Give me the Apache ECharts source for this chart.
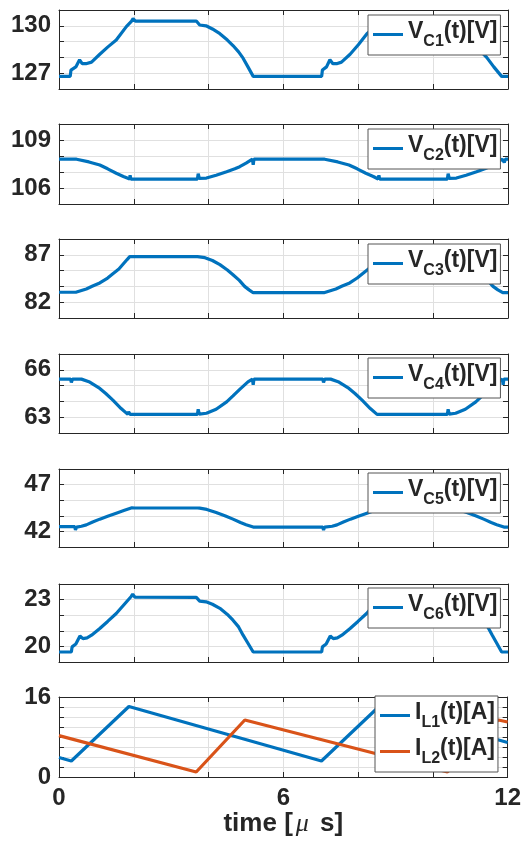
<!DOCTYPE html>
<html>
<head>
<meta charset="utf-8">
<script src="https://cdn.jsdelivr.net/npm/echarts@6/dist/echarts.min.js"></script>
<style>
  html, body { margin: 0; padding: 0; background: #ffffff; }
  #chart { width: 524px; height: 851px; }
</style>
</head>
<body>
<div id="chart"></div>
<script>
// ---- Capacitor voltages, [time (µs), volts] ----
const vC1 = [[0,126.8],[0.3,126.8],[0.32,127.2],[0.45,127.4],[0.55,127.85],[0.62,127.6],[0.72,127.6],[0.87,127.7],[1.09,128.2],[1.3,128.65],[1.53,129.1],[1.8,129.95],[1.94,130.3],[1.98,130.45],[2.04,130.3],[3.67,130.3],[3.76,130.05],[3.93,130.0],[4.1,129.8],[4.3,129.5],[4.5,129.1],[4.65,128.75],[4.8,128.35],[4.92,127.95],[5.05,127.4],[5.19,126.8],[7.02,126.8],[7.04,127.2],[7.15,127.4],[7.24,127.85],[7.32,127.6],[7.42,127.6],[7.55,127.7],[7.78,128.2],[8.0,128.8],[8.23,129.5],[8.45,129.95],[8.62,130.3],[8.66,130.45],[8.72,130.3],[10.3,130.3],[10.38,130.05],[10.55,130.0],[10.72,129.5],[10.9,129.15],[11.05,128.8],[11.25,128.45],[11.43,128.0],[11.62,127.4],[11.83,126.8],[12,126.8]];
const vC2 = [[0,107.8],[0.47,107.8],[0.8,107.63],[1.09,107.44],[1.3,107.2],[1.53,106.92],[1.72,106.72],[1.89,106.56],[1.9,106.8],[1.92,106.56],[3.7,106.56],[3.72,106.9],[3.75,106.6],[3.94,106.62],[4.2,106.8],[4.48,107.02],[4.7,107.2],[4.83,107.33],[5.0,107.55],[5.17,107.8],[5.19,107.45],[5.21,107.8],[7.1,107.8],[7.45,107.63],[7.75,107.44],[7.97,107.2],[8.2,106.92],[8.4,106.72],[8.53,106.56],[8.55,106.8],[8.57,106.56],[10.38,106.56],[10.4,106.9],[10.43,106.6],[10.62,106.62],[10.88,106.8],[11.16,107.02],[11.38,107.2],[11.51,107.33],[11.68,107.55],[11.85,107.8],[11.9,107.6],[11.93,107.8],[12,107.8]];
const vC3 = [[0,83.05],[0.45,83.05],[0.47,82.85],[0.5,83.05],[0.73,83.4],[0.9,83.7],[1.09,84.03],[1.3,84.55],[1.44,85.0],[1.6,85.5],[1.71,86.0],[1.82,86.5],[1.89,86.8],[3.7,86.8],[3.72,86.65],[3.9,86.7],[4.1,86.4],[4.3,85.96],[4.5,85.4],[4.65,84.9],[4.82,84.3],[4.96,83.67],[5.08,83.3],[5.19,83.0],[7.08,83.0],[7.1,82.8],[7.13,83.0],[7.4,83.4],[7.57,83.7],[7.77,84.03],[7.97,84.55],[8.11,85.0],[8.27,85.5],[8.38,86.0],[8.49,86.5],[8.56,86.8],[10.36,86.8],[10.55,86.7],[10.75,86.4],[10.94,85.96],[11.14,85.4],[11.29,84.9],[11.46,84.3],[11.6,83.67],[11.73,83.3],[11.86,83.0],[12,83.0]];
const vC4 = [[0,65.41],[0.31,65.41],[0.33,65.2],[0.36,65.41],[0.6,65.41],[0.8,65.25],[1.09,64.82],[1.25,64.5],[1.44,64.08],[1.66,63.55],[1.84,63.18],[1.86,63.35],[1.9,63.18],[3.7,63.18],[3.72,63.5],[3.75,63.2],[3.94,63.25],[4.2,63.5],[4.48,63.97],[4.65,64.35],[4.83,64.76],[5.05,65.24],[5.17,65.41],[5.19,65.05],[5.21,65.41],[7.05,65.41],[7.07,65.2],[7.1,65.41],[7.26,65.41],[7.46,65.25],[7.75,64.82],[7.91,64.5],[8.1,64.08],[8.32,63.55],[8.5,63.18],[10.38,63.18],[10.4,63.5],[10.43,63.2],[10.6,63.25],[10.86,63.5],[11.14,63.97],[11.31,64.35],[11.49,64.76],[11.71,65.24],[11.85,65.41],[11.87,65.05],[11.89,65.41],[12,65.41]];
const vC5 = [[0,42.5],[0.42,42.5],[0.44,42.15],[0.47,42.45],[0.6,42.55],[0.73,42.7],[0.9,43.0],[1.09,43.31],[1.3,43.62],[1.53,43.95],[1.75,44.25],[1.95,44.52],[1.98,44.65],[2.02,44.5],[3.7,44.5],[3.72,44.65],[3.76,44.48],[3.95,44.35],[4.2,44.02],[4.45,43.65],[4.65,43.31],[4.85,42.95],[5.0,42.72],[5.19,42.46],[7.05,42.46],[7.07,42.15],[7.1,42.45],[7.3,42.55],[7.43,42.7],[7.6,43.0],[7.79,43.31],[8.0,43.62],[8.23,43.95],[8.45,44.25],[8.65,44.52],[10.4,44.5],[10.65,44.35],[10.9,44.02],[11.15,43.65],[11.35,43.31],[11.55,42.95],[11.7,42.72],[11.89,42.46],[12,42.46]];
const vC6 = [[0,19.64],[0.33,19.64],[0.35,19.97],[0.45,20.15],[0.56,20.67],[0.64,20.5],[0.75,20.55],[0.87,20.72],[1.09,21.15],[1.3,21.6],[1.53,22.11],[1.8,22.85],[1.93,23.2],[1.97,23.35],[2.03,23.15],[3.67,23.14],[3.76,22.9],[3.93,22.86],[4.1,22.7],[4.3,22.44],[4.5,22.05],[4.65,21.68],[4.8,21.25],[4.92,20.72],[5.05,20.2],[5.19,19.64],[7.02,19.64],[7.04,19.97],[7.14,20.15],[7.25,20.67],[7.33,20.5],[7.44,20.55],[7.56,20.72],[7.78,21.15],[7.99,21.6],[8.22,22.11],[8.49,22.85],[8.62,23.2],[8.66,23.35],[8.72,23.15],[10.33,23.14],[10.42,22.9],[10.59,22.86],[10.76,22.7],[10.96,22.44],[11.16,22.05],[11.31,21.68],[11.46,21.25],[11.58,20.72],[11.7,20.2],[11.83,19.64],[12,19.64]];

// ---- Inductor currents, [time (µs), amps] ----
const iL1 = [[0,3.9],[0.33,3.2],[1.87,14.1],[7.02,3.2],[8.56,14.1],[12,6.9]];
const iL2 = [[0,8.27],[3.67,1.0],[4.97,11.4],[10.39,1.0],[11.75,11.4],[12,11.0]];

// ---- Axis ranges, tick values and labelled ticks per panel ----
const yRanges = [[126,131],[105,110],[80.333,88.667],[62,67],[40.333,48.667],[19,24],[0,16]];
const yTicks = [
  [127,128,129,130],
  [106,107,108,109],
  [82,83.667,85.333,87],
  [63,64,65,66],
  [42,43.667,45.333,47],
  [20,21,22,23],
  [0,2,4,6,8,10,12,14,16]
];
const yLabels = [[127,130],[106,109],[82,87],[63,66],[42,47],[20,23],[0,16]];
const xRange = [0, 12];
const xLabels = [0, 6, 12];

const seriesNames = [
  ['V_C1(t)[V]'], ['V_C2(t)[V]'], ['V_C3(t)[V]'], ['V_C4(t)[V]'],
  ['V_C5(t)[V]'], ['V_C6(t)[V]'], ['I_L1(t)[A]', 'I_L2(t)[A]']
];
const seriesData = [[vC1],[vC2],[vC3],[vC4],[vC5],[vC6],[iL1, iL2]];

// ---- Styling / layout ----
const BLUE = '#0072BD', ORANGE = '#D95319';
const INK = '#262626', GRIDLINE = '#e0e0e0';
const FONT = "'Liberation Sans', Arial, Helvetica, sans-serif";
const panelTop = [10, 124, 239, 354, 469, 584, 697];
const panelHeight = [79, 80, 79, 79, 78, 78, 80];
const legendPos = [[368,15],[368,129],[368,244],[368,358],[368,473],[368,588],[375,696]];
const lineColors = [BLUE, ORANGE];

const grids = [], xAxes = [], yAxes = [], series = [], legends = [];

const legendRich = {
  m: { fontSize: 23, fontWeight: 'bold', color: INK, fontFamily: FONT, lineHeight: 24, padding: [0,0,6,0] },
  s: { fontSize: 16, fontWeight: 'bold', color: INK, fontFamily: FONT, lineHeight: 18, padding: [15,0,0,0] }
};
function legendText(name) {
  const m = name.match(/^(.)_(\w\d)(.*)$/);
  return '{m|' + m[1] + '}{s|' + m[2] + '}{m|' + m[3] + '}';
}

yRanges.forEach((range, i) => {
  const last = i === yRanges.length - 1;
  grids.push({ left: 59, width: 449, top: panelTop[i], height: panelHeight[i] });

  // bottom axis (with grid lines) and mirrored top axis for the box ticks
  xAxes.push({
    gridIndex: i, type: 'value', min: xRange[0], max: xRange[1], interval: 2, position: 'bottom',
    axisLine: { show: true, onZero: false, lineStyle: { color: INK, width: 1 } },
    axisTick: { show: true, inside: true, length: 5, lineStyle: { color: INK } },
    splitLine: { show: true, lineStyle: { color: GRIDLINE, width: 1 } },
    axisLabel: last ? {
      show: true, customValues: xLabels, margin: 9, color: INK,
      fontSize: 24, fontWeight: 'bold', fontFamily: FONT
    } : { show: false },
    name: last ? '{b|time [}{i|μ}{b| s]}' : '',
    nameLocation: 'middle', nameGap: 33,
    nameTextStyle: {
      rich: {
        b: { fontSize: 26, fontWeight: 'bold', color: INK, fontFamily: FONT },
        i: { fontSize: 26, fontStyle: 'italic', color: INK, fontFamily: "'Liberation Serif', serif", padding: [0,4,0,3] }
      }
    }
  });
  xAxes.push({
    gridIndex: i, type: 'value', min: xRange[0], max: xRange[1], interval: 2, position: 'top',
    axisLine: { show: true, onZero: false, lineStyle: { color: INK, width: 1 } },
    axisTick: { show: true, inside: true, length: 5, lineStyle: { color: INK } },
    splitLine: { show: false }, axisLabel: { show: false }
  });

  // left axis (labels, grid lines) and mirrored right axis
  yAxes.push({
    gridIndex: i, type: 'value', min: range[0], max: range[1], position: 'left',
    axisLine: { show: true, onZero: false, lineStyle: { color: INK, width: 1 } },
    axisTick: { show: true, inside: true, length: 5, customValues: yTicks[i], lineStyle: { color: INK } },
    splitLine: { show: true, lineStyle: { color: GRIDLINE, width: 1 } },
    axisLabel: {
      show: true, customValues: yLabels[i], margin: 8, color: INK,
      fontSize: 24, fontWeight: 'bold', fontFamily: FONT
    }
  });
  yAxes.push({
    gridIndex: i, type: 'value', min: range[0], max: range[1], position: 'right',
    axisLine: { show: true, onZero: false, lineStyle: { color: INK, width: 1 } },
    axisTick: { show: true, inside: true, length: 5, customValues: yTicks[i], lineStyle: { color: INK } },
    splitLine: { show: false }, axisLabel: { show: false }
  });

  seriesNames[i].forEach((name, k) => {
    series.push({
      name, type: 'line', xAxisIndex: i * 2, yAxisIndex: i * 2,
      data: seriesData[i][k], showSymbol: false, symbol: 'none',
      lineStyle: { width: 3.2, color: lineColors[k] }, itemStyle: { color: lineColors[k] },
      z: 3, animation: false
    });
  });

  legends.push({
    data: seriesNames[i], left: legendPos[i][0], top: legendPos[i][1],
    orient: 'vertical', icon: 'rect', itemWidth: 30, itemHeight: 3, itemGap: 5,
    padding: [4, 3, 5, 5], backgroundColor: '#ffffff', borderColor: '#555555', borderWidth: 1,
    borderRadius: 0, selectedMode: false, z: 10,
    formatter: legendText, textStyle: { rich: legendRich }
  });
});

const chart = echarts.init(document.getElementById('chart'), null, { renderer: 'canvas' });
chart.setOption({
  animation: false,
  backgroundColor: '#ffffff',
  grid: grids, xAxis: xAxes, yAxis: yAxes, series, legend: legends
});
</script>
</body>
</html>
